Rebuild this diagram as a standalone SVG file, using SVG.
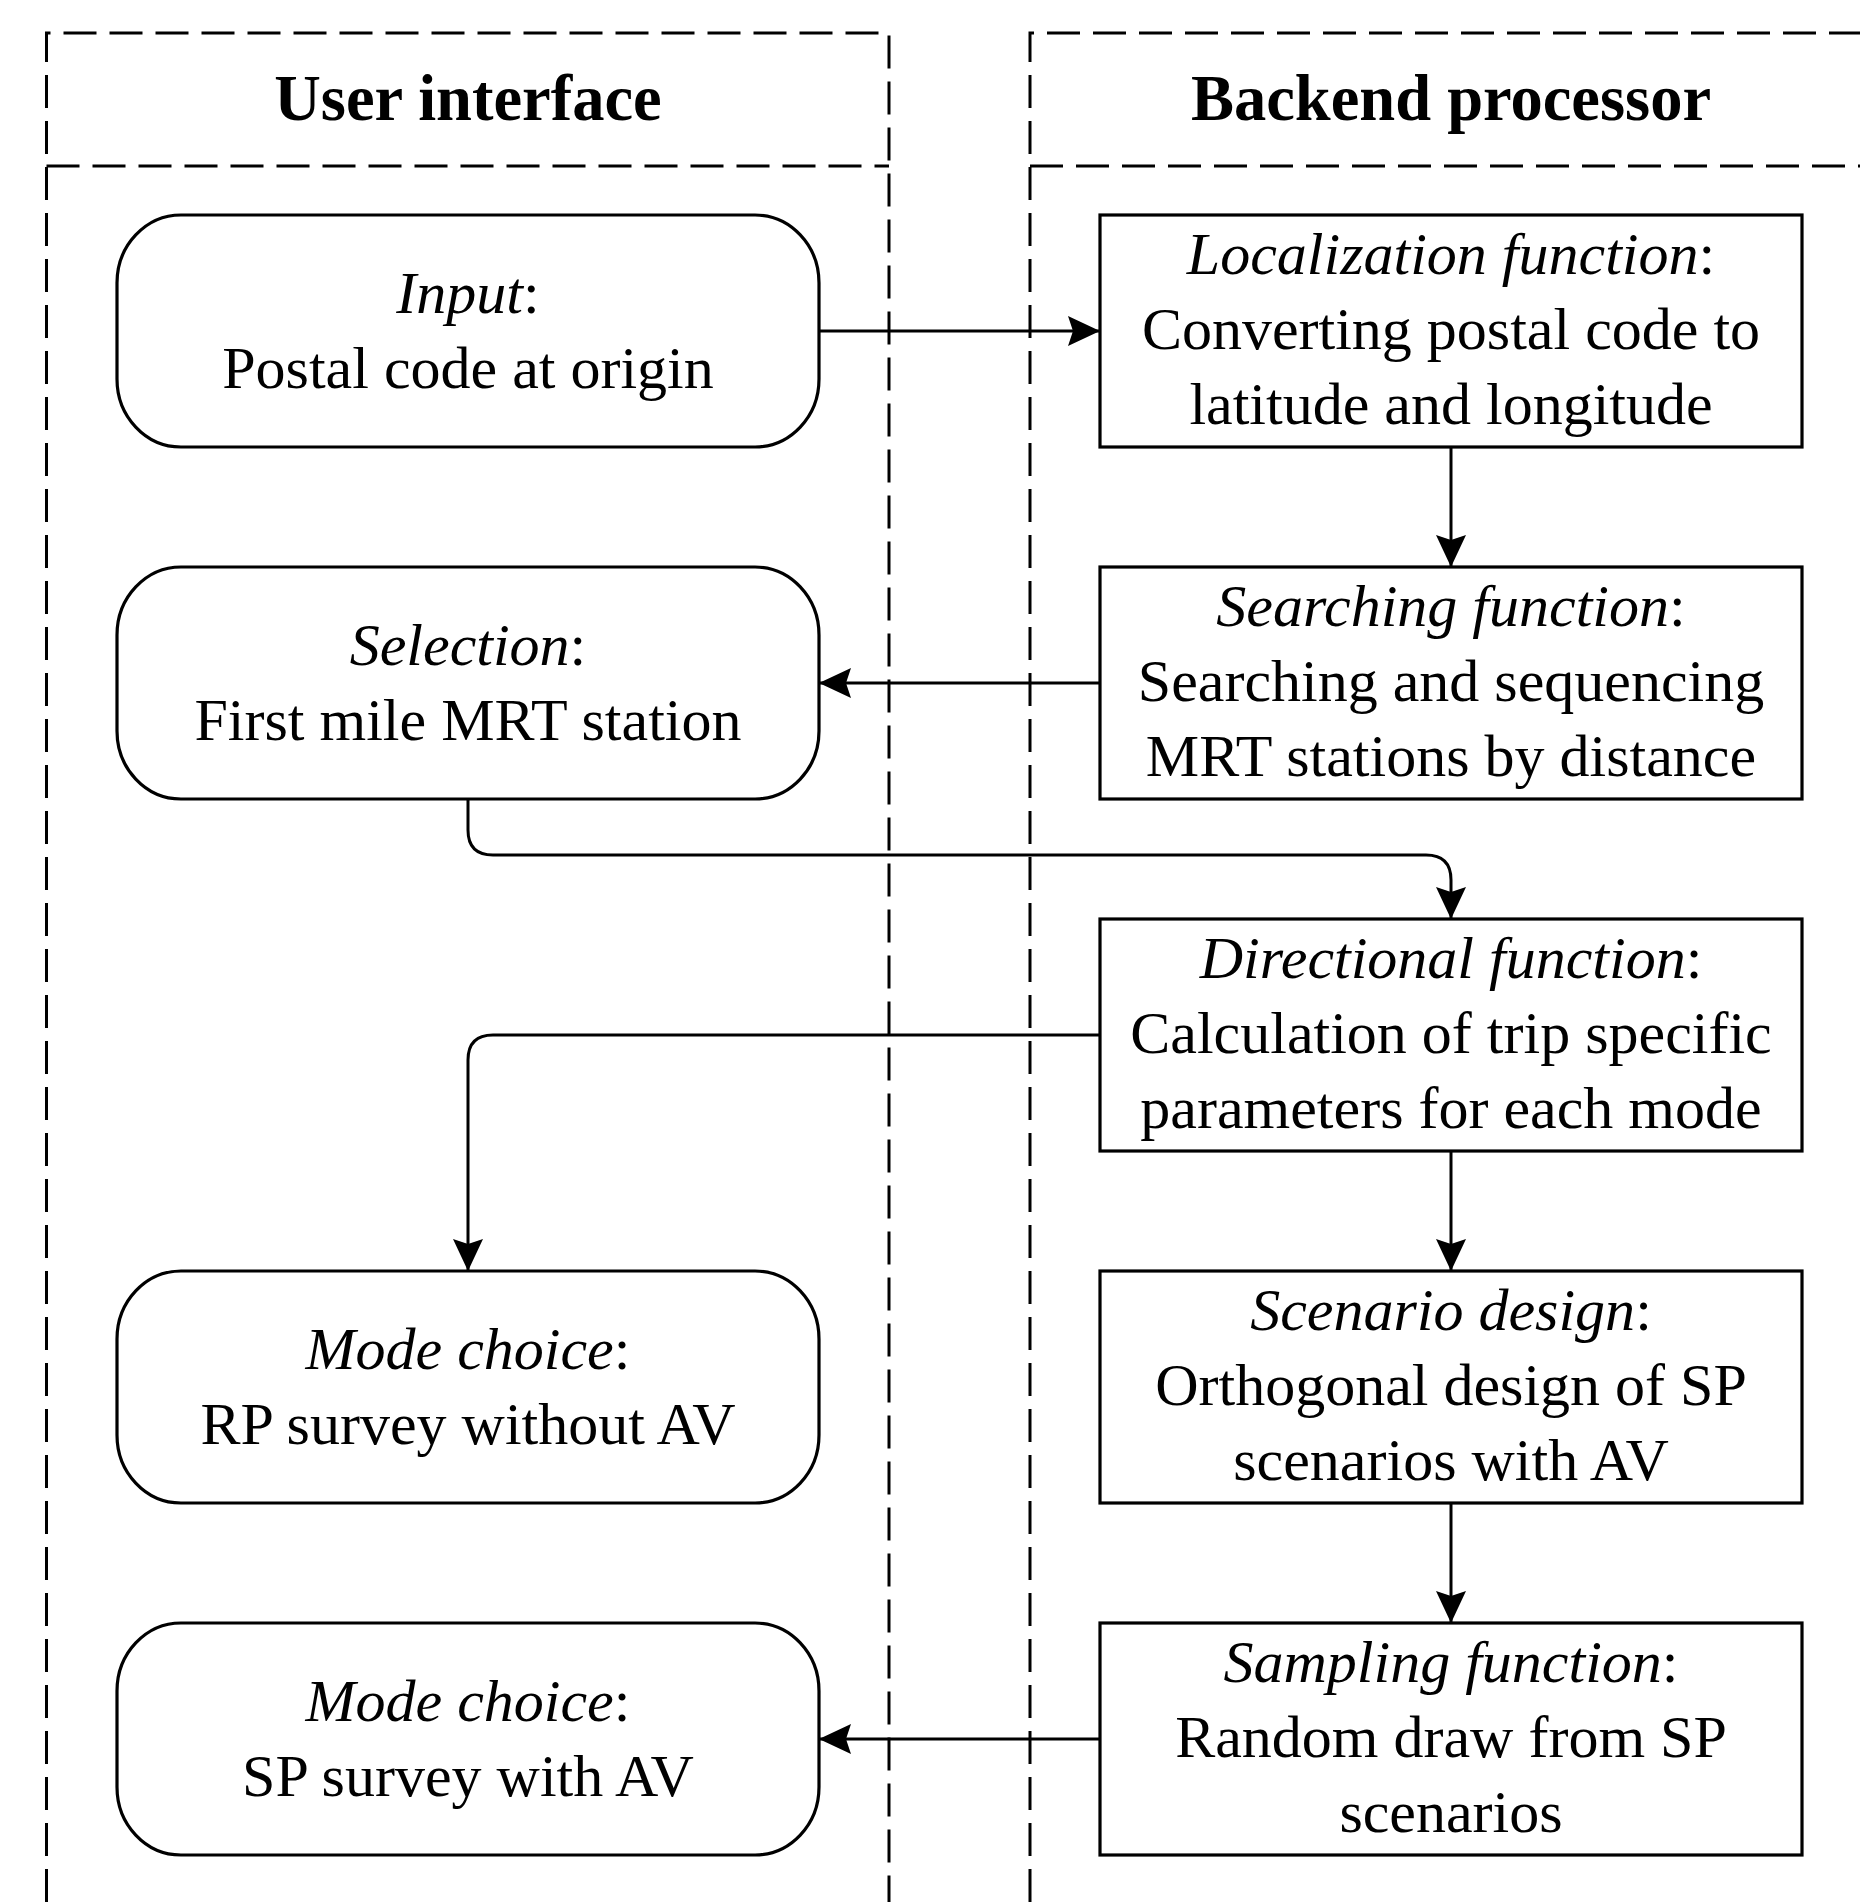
<svg xmlns="http://www.w3.org/2000/svg" width="1860" height="1902" viewBox="0 0 1860 1902">
<style>
.lane{fill:none;stroke:#000;stroke-width:3;stroke-dasharray:33 13}
.rbox{fill:#fff;stroke:#000;stroke-width:3.2}
.box{fill:#fff;stroke:#000;stroke-width:3.2}
.hd{font-family:"Liberation Serif","Times New Roman",serif;font-weight:bold;font-size:64.5px;text-anchor:middle;fill:#000}
.t{font-family:"Liberation Serif","Times New Roman",serif;font-size:60px;text-anchor:middle;fill:#000}
.i{font-style:italic}
.c{fill:none;stroke:#000;stroke-width:3}
</style>
<defs>
<marker id="arr" markerUnits="userSpaceOnUse" markerWidth="34" markerHeight="32" refX="32" refY="15" orient="auto" overflow="visible">
<path d="M0,0 L32,15 L0,30 L5,15 z" fill="#000"/>
</marker>
</defs>
<rect width="1860" height="1902" fill="#fff"/>
<g id="lanes">
<path class="lane" d="M46.5,1902 V33 H889 V1902"/>
<path class="lane" d="M46.5,166 H889"/>
<path class="lane" d="M1030,1902 V33 H1870"/>
<path class="lane" d="M1030,166 H1870"/>
<text class="hd" x="468" y="120">User interface</text>
<text class="hd" x="1451" y="120">Backend processor</text>
</g>
<g id="connectors">
<path class="c" d="M819,331 H1100" marker-end="url(#arr)"/>
<path class="c" d="M1451,447 V567" marker-end="url(#arr)"/>
<path class="c" d="M1100,683 H819" marker-end="url(#arr)"/>
<path class="c" d="M468,799 V830 Q468,855 493,855 H1426 Q1451,855 1451,880 V919" marker-end="url(#arr)"/>
<path class="c" d="M1100,1035 H493 Q468,1035 468,1060 V1271" marker-end="url(#arr)"/>
<path class="c" d="M1451,1151 V1271" marker-end="url(#arr)"/>
<path class="c" d="M1451,1503 V1623" marker-end="url(#arr)"/>
<path class="c" d="M1100,1739 H819" marker-end="url(#arr)"/>
</g>
<g id="input">
<rect class="rbox" x="117" y="215" width="702" height="232" rx="64" ry="68"/>
<text class="t" x="468" y="313"><tspan class="i">Input</tspan>:</text>
<text class="t" x="468" y="388">Postal code at origin</text>
</g>
<g id="selection">
<rect class="rbox" x="117" y="567" width="702" height="232" rx="64" ry="68"/>
<text class="t" x="468" y="665"><tspan class="i">Selection</tspan>:</text>
<text class="t" x="468" y="740">First mile MRT station</text>
</g>
<g id="mode-rp">
<rect class="rbox" x="117" y="1271" width="702" height="232" rx="64" ry="68"/>
<text class="t" x="468" y="1369"><tspan class="i">Mode choice</tspan>:</text>
<text class="t" x="468" y="1444">RP survey without AV</text>
</g>
<g id="mode-sp">
<rect class="rbox" x="117" y="1623" width="702" height="232" rx="64" ry="68"/>
<text class="t" x="468" y="1721"><tspan class="i">Mode choice</tspan>:</text>
<text class="t" x="468" y="1796">SP survey with AV</text>
</g>
<g id="localization">
<rect class="box" x="1100" y="215" width="702" height="232"/>
<text class="t" x="1451" y="274"><tspan class="i">Localization function</tspan>:</text>
<text class="t" x="1451" y="349">Converting postal code to</text>
<text class="t" x="1451" y="424">latitude and longitude</text>
</g>
<g id="searching">
<rect class="box" x="1100" y="567" width="702" height="232"/>
<text class="t" x="1451" y="626"><tspan class="i">Searching function</tspan>:</text>
<text class="t" x="1451" y="701">Searching and sequencing</text>
<text class="t" x="1451" y="776">MRT stations by distance</text>
</g>
<g id="directional">
<rect class="box" x="1100" y="919" width="702" height="232"/>
<text class="t" x="1451" y="978"><tspan class="i">Directional function</tspan>:</text>
<text class="t" x="1451" y="1053">Calculation of trip specific</text>
<text class="t" x="1451" y="1128">parameters for each mode</text>
</g>
<g id="scenario">
<rect class="box" x="1100" y="1271" width="702" height="232"/>
<text class="t" x="1451" y="1330"><tspan class="i">Scenario design</tspan>:</text>
<text class="t" x="1451" y="1405">Orthogonal design of SP</text>
<text class="t" x="1451" y="1480">scenarios with AV</text>
</g>
<g id="sampling">
<rect class="box" x="1100" y="1623" width="702" height="232"/>
<text class="t" x="1451" y="1682"><tspan class="i">Sampling function</tspan>:</text>
<text class="t" x="1451" y="1757">Random draw from SP</text>
<text class="t" x="1451" y="1832">scenarios</text>
</g>
</svg>
